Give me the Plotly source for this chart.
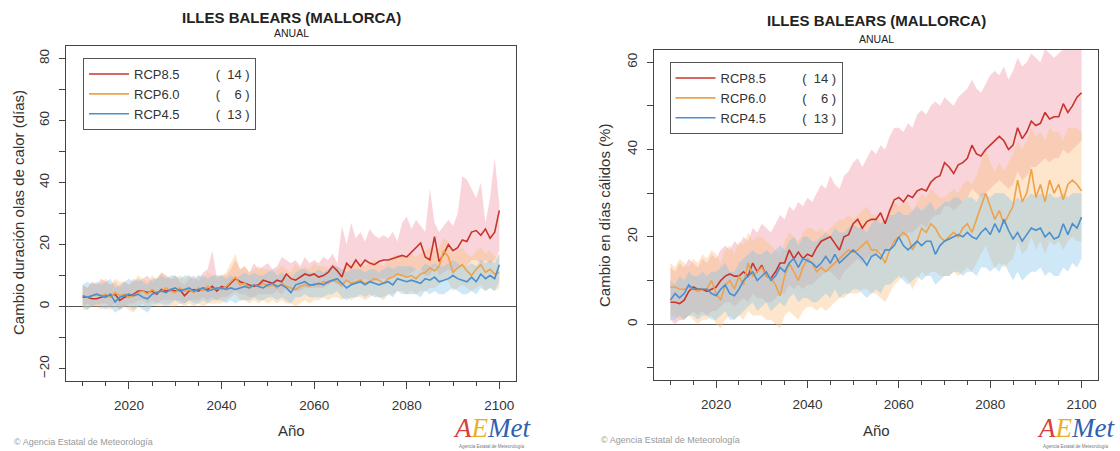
import plotly.graph_objects as go

# ---------------- DATA ----------------
years = list(range(2010, 2101))

# Left panel: Cambio duración olas de calor (días)
l85 = [3.0,3.0,2.5,2.5,3.0,3.5,3.5,4.0,2.0,3.0,
       3.5,4.0,5.0,5.0,4.5,5.0,4.0,5.5,5.0,5.5,
       5.0,5.5,3.5,5.0,5.5,5.0,6.0,5.5,6.5,5.0,
       6.5,6.0,7.5,9.0,8.0,7.5,7.0,6.5,7.0,8.5,
       8.0,7.5,8.5,8.0,10.5,9.0,8.5,9.5,10.5,10.0,
       10.5,9.5,10.0,11.0,13.0,11.5,9.5,14.0,12.5,15.0,
       13.0,15.0,14.0,13.5,14.5,15.0,15.0,15.5,16.0,16.5,
       16.0,17.5,19.0,20.5,16.0,15.0,22.5,14.5,17.0,20.0,
       18.0,19.0,21.5,21.0,24.0,24.5,23.0,25.0,22.0,24.0,
       31.0]
l85_hi = [7,6,8,7,9,8,7,8,6,8,
          7,9,8,9,10,8,9,11,10,9,
          10,8,7,9,10,8,11,12,18,9,
          10,10,12,15,12,13,11,14,12,13,
          14,12,13,16,15,14,15,13,16,14,
          15,14,16,15,17,14,26,20,27,22,
          24,21,25,23,22,23,22,24,21,27,
          29,25,28,26,24,38,27,24,26,28,
          26,30,42,41,38,35,40,27,35,48,
          33]
l85_lo = [0,1,0,0,1,1,0,1,-1,0,
          1,1,2,2,1,2,1,2,2,2,
          2,2,1,2,2,2,3,2,3,2,
          3,3,4,5,4,4,3,3,4,4,
          4,4,5,4,6,5,5,5,6,6,
          6,6,6,7,8,7,6,8,7,9,
          8,9,8,8,9,9,9,10,10,10,
          10,11,12,12,10,10,13,10,11,12,
          11,12,13,13,15,15,14,15,14,15,
          18]
l60 = [3.5,3.0,3.5,4.0,3.5,4.0,3.0,4.5,3.5,4.0,
       3.0,3.5,4.5,5.0,4.0,5.5,4.5,5.0,6.0,5.0,
       4.5,6.0,5.0,5.5,4.5,6.0,5.0,6.5,5.5,6.0,
       5.5,6.5,8.0,9.5,7.0,7.5,6.0,7.0,6.5,7.5,
       6.5,7.0,6.0,7.5,6.5,6.0,5.5,6.5,7.0,6.5,
       7.5,7.0,8.0,7.5,8.5,8.0,7.0,8.5,7.5,8.0,
       8.5,7.5,8.0,9.0,8.5,7.5,9.0,9.5,10.5,10.0,
       9.5,10.0,9.0,10.5,11.0,12.5,11.5,13.0,18.0,16.0,
       11.0,12.5,13.5,11.5,10.0,12.0,13.5,11.0,12.0,10.5,
       11.0]
l60_hi = [7,6,8,7,8,9,7,9,8,8,
          7,8,10,9,8,10,9,11,10,9,
          9,10,9,10,8,10,9,11,10,10,
          10,11,14,17,12,13,11,12,13,12,
          12,11,12,13,12,11,14,12,13,12,
          14,13,13,12,14,13,12,14,13,14,
          14,13,14,15,14,13,15,16,17,16,
          16,17,16,17,18,19,18,19,22,21,
          17,18,19,17,16,18,19,17,18,16,
          17]
l60_lo = [-1,-1,0,0,-1,0,-1,0,-1,0,
          -1,-2,0,1,-1,1,0,0,1,0,
          0,1,0,1,0,1,0,1,1,1,
          1,2,3,4,2,2,1,2,1,2,
          1,2,1,2,1,1,0,1,2,1,
          2,2,3,2,3,3,2,3,2,3,
          3,2,3,4,3,2,4,4,5,5,
          4,5,4,5,5,6,6,7,9,8,
          5,6,7,6,5,6,7,5,6,5,
          6]
l45 = [3.5,3.0,3.5,4.0,3.5,3.0,4.0,1.5,3.0,3.5,
       4.0,3.5,4.0,3.0,2.5,4.0,4.5,5.0,4.5,5.5,
       6.0,5.0,5.5,6.0,5.0,5.5,6.0,5.0,5.5,6.0,
       6.0,5.5,6.0,5.5,6.0,6.5,6.0,7.0,6.5,6.0,
       7.0,7.5,6.5,7.0,6.0,4.5,7.0,7.5,8.0,7.0,
       7.0,7.5,7.0,8.0,8.5,9.0,7.5,6.0,7.0,7.5,
       8.0,7.0,8.0,7.5,7.0,7.5,8.0,7.0,9.0,8.5,
       8.0,8.5,8.0,7.5,9.0,8.5,9.5,8.0,8.5,9.0,
       10.0,9.0,8.5,8.0,9.5,8.0,10.5,9.0,10.0,9.0,
       13.5]
l45_hi = [7,8,7,8,7,8,9,6,7,8,
          9,8,9,8,7,9,9,10,9,10,
          10,9,10,10,9,10,10,9,10,10,
          10,9,10,9,10,11,10,11,10,10,
          11,12,10,11,10,9,11,12,12,11,
          11,12,11,12,13,13,12,11,12,12,
          12,11,12,12,11,12,13,12,13,13,
          13,13,12,12,14,13,14,13,13,14,
          15,14,13,13,14,13,15,14,15,14,
          17]
l45_lo = [0,-1,0,1,0,-1,0,-2,-1,0,
          0,-1,0,-1,-2,0,1,1,0,1,
          2,1,1,2,1,1,2,1,2,2,
          2,1,2,1,2,2,2,3,2,2,
          3,3,2,3,2,1,3,3,4,3,
          3,3,3,4,4,5,3,2,3,3,
          4,3,4,3,3,3,4,3,5,4,
          4,4,4,3,5,4,5,4,4,5,
          6,5,4,4,5,4,6,5,6,5,
          8]

# Right panel: Cambio en días cálidos (%)
r85 = [5.0,5.0,4.7,5.5,7.5,8.5,8.0,8.0,7.5,8.0,
       8.5,10.0,11.0,11.5,11.0,11.0,12.0,11.0,14.0,12.0,
       13.5,11.0,10.5,12.0,14.0,14.0,17.0,15.0,16.5,15.0,
       16.0,15.5,17.5,19.0,19.5,20.0,18.5,17.0,20.0,20.5,
       23.0,24.0,22.0,23.5,24.0,24.0,25.5,23.0,26.0,28.5,
       29.0,28.0,29.5,29.0,30.5,31.0,30.5,32.5,33.5,34.0,
       37.0,36.0,34.5,36.5,37.0,38.0,41.0,39.0,38.5,40.0,
       41.0,42.0,43.0,42.0,40.0,41.0,45.0,42.5,44.0,46.5,
       45.5,46.0,48.5,47.0,47.5,47.5,50.5,48.5,50.0,52.0,
       53.0]
r85_hi = [13,12,14,13,15,14,13,15,14,16,
          15,17,18,17,19,18,20,19,22,21,
          23,22,21,23,25,24,27,26,28,27,
          29,28,30,32,31,34,32,31,34,35,
          37,38,36,38,40,39,41,40,43,45,
          45,44,46,45,48,49,48,50,51,50,
          52,51,50,52,53,54,56,54,53,55,
          57,58,57,59,56,58,61,59,60,62,
          61,60,63,62,61,62,63,63,63,63,
          63]
r85_lo = [1,0,1,1,2,3,2,3,2,3,
          3,4,5,5,4,5,6,5,7,6,
          6,5,5,6,7,7,9,8,9,8,
          9,9,10,11,12,12,11,10,12,13,
          14,15,14,15,16,16,17,16,18,19,
          20,20,21,21,22,23,22,24,25,25,
          27,27,26,27,28,29,31,30,29,30,
          31,32,33,32,31,32,35,33,34,36,
          36,37,38,37,38,38,40,39,40,41,
          42]
r60 = [8.5,8.5,8.0,8.0,8.5,8.0,7.5,8.0,8.0,10.0,
       7.0,5.5,9.0,10.0,8.0,11.0,9.0,14.0,11.0,12.0,
       13.0,11.0,10.5,9.0,6.5,11.0,14.0,12.0,10.0,13.0,
       15.0,14.0,12.0,13.0,12.0,13.0,14.0,15.0,16.0,17.0,
       16.5,17.0,18.0,19.0,17.0,17.0,16.0,14.0,17.0,19.0,
       20.0,21.0,20.0,17.0,19.0,22.0,21.0,23.0,22.0,20.0,
       19.0,20.0,21.0,20.0,22.0,23.0,21.0,24.0,27.0,30.0,
       27.0,24.0,26.0,23.0,25.0,27.0,33.0,28.0,30.0,35.5,
       29.0,32.0,28.0,33.0,30.0,32.0,28.5,32.0,33.0,32.0,
       30.5]
r60_hi = [14,13,15,14,13,15,14,16,15,17,
          16,14,17,18,16,19,18,21,19,20,
          20,19,18,17,16,19,21,20,19,21,
          22,22,21,22,21,22,23,24,24,25,
          24,25,26,27,25,25,24,23,26,28,
          27,28,28,26,28,30,29,31,30,29,
          29,30,31,30,32,33,32,34,37,40,
          37,35,37,35,37,39,42,40,42,45,
          43,44,42,45,44,44,42,45,45,45,
          44]
r60_lo = [2,2,1,1,2,1,0,1,1,2,
          0,-1,1,2,1,2,1,3,2,2,
          2,1,1,0,-1,2,3,2,1,3,
          4,4,3,4,3,4,5,6,6,7,
          7,7,8,8,7,7,6,5,7,9,
          10,11,10,8,10,12,11,12,12,11,
          11,11,12,11,12,13,12,14,16,18,
          15,13,14,13,14,15,19,16,17,20,
          17,19,16,19,18,19,17,19,20,19,
          19]
r45 = [5.5,7.0,6.0,7.0,9.0,8.0,8.0,8.0,8.0,7.0,
       6.5,8.0,9.0,7.0,6.5,8.0,10.0,11.0,12.0,10.0,
       11.0,12.0,10.0,11.0,13.0,12.0,14.0,15.0,13.0,15.0,
       14.5,14.0,13.0,14.0,15.5,14.0,16.0,14.0,15.0,16.0,
       17.0,16.0,15.0,13.5,15.5,16.0,15.0,17.0,17.0,18.0,
       20.0,18.0,17.0,18.0,19.0,18.0,19.0,19.0,16.0,18.0,
       19.0,19.5,20.0,20.5,20.0,21.0,20.0,19.5,21.0,22.0,
       20.5,23.0,21.0,24.0,21.5,19.5,21.0,19.0,20.5,22.0,
       21.5,22.0,20.0,21.0,19.5,20.0,23.0,20.5,23.0,22.0,
       24.5]
r45_hi = [10,9,11,10,12,11,11,12,11,12,
          12,13,14,12,12,14,15,16,17,16,
          16,17,16,17,18,17,19,20,18,20,
          20,19,19,20,21,20,22,21,21,22,
          23,22,22,21,23,24,23,24,25,25,
          26,25,25,26,27,26,27,28,26,27,
          28,28,29,29,28,29,29,28,30,30,
          29,30,30,30,29,28,29,28,29,30,
          29,30,29,30,29,29,30,29,30,30,
          30]
r45_lo = [1,1,2,1,2,2,1,2,2,1,
          1,2,3,1,1,2,3,4,5,3,
          4,5,3,4,5,4,6,7,5,6,
          6,5,5,6,7,6,8,6,7,7,
          8,8,7,6,7,8,7,9,9,10,
          11,10,9,10,11,10,11,11,9,10,
          11,11,12,12,11,12,12,11,13,13,
          12,13,12,14,12,10,12,10,11,12,
          12,13,11,12,11,11,13,12,14,13,
          15]

scenarios = ["RCP8.5", "RCP6.0", "RCP4.5"]
model_counts = [14, 6, 13]
title_text = "ILLES BALEARS (MALLORCA)"
subtitle_text = "ANUAL"
ytitle_left = "Cambio duración olas de calor (días)"
ytitle_right = "Cambio en días cálidos (%)"
xtitle = "Año"

# ---------------- STYLE ----------------
W, H = 1120, 451
FONT = "Liberation Sans, Arial, sans-serif"
line_colors = ["#c9342d", "#eea24a", "#4a90d0"]
band_colors = ["rgba(240,150,165,0.40)", "rgba(250,190,120,0.38)", "rgba(130,195,235,0.38)"]
NB = "\u00a0"


def px(x):
    return x / W


def py(y):
    return 1 - y / H


def legend_name(name, n):
    num = str(n)
    pad = NB * 2 if len(num) == 2 else NB * 4
    return name + NB * 10 + "(" + pad + num + NB + ")"


fig = go.Figure()


def add_panel(xa, ya, leg, series):
    for (mean, lo, hi), bc in zip(series, band_colors):
        fig.add_trace(go.Scatter(x=years, y=hi, xaxis=xa, yaxis=ya, mode="lines",
                                 line=dict(width=0, color=bc), showlegend=False, hoverinfo="skip"))
        fig.add_trace(go.Scatter(x=years, y=lo, xaxis=xa, yaxis=ya, mode="lines",
                                 line=dict(width=0, color=bc), fill="tonexty", fillcolor=bc,
                                 showlegend=False, hoverinfo="skip"))
    for (mean, lo, hi), lc, name, n in zip(series, line_colors, scenarios, model_counts):
        fig.add_trace(go.Scatter(x=years, y=mean, xaxis=xa, yaxis=ya, mode="lines",
                                 line=dict(color=lc, width=1.6), name=legend_name(name, n),
                                 legend=leg))


add_panel("x", "y", "legend", [(l85, l85_lo, l85_hi), (l60, l60_lo, l60_hi), (l45, l45_lo, l45_hi)])
add_panel("x2", "y2", "legend2", [(r85, r85_lo, r85_hi), (r60, r60_lo, r60_hi), (r45, r45_lo, r45_hi)])

tickfont = dict(family=FONT, size=13.5, color="#333")


def xaxis_cfg(domain, anchor):
    return dict(domain=domain, anchor=anchor, range=[2006.4, 2103.6], tick0=2000, dtick=20,
                ticks="outside", ticklen=7, tickwidth=1, tickcolor="#444",
                minor=dict(tick0=2010, dtick=5, ticks="outside", ticklen=4, tickwidth=1, tickcolor="#444"),
                showline=True, mirror=True, linecolor="#444", linewidth=1,
                showgrid=False, zeroline=False, tickfont=tickfont, ticklabelstandoff=5)


def yaxis_cfg(domain, anchor, rng):
    return dict(domain=domain, anchor=anchor, range=rng, tick0=0, dtick=20, tickangle=-90,
                ticks="outside", ticklen=6, tickwidth=1, tickcolor="#444",
                minor=dict(tick0=0, dtick=10, ticks="outside", ticklen=6, tickwidth=1, tickcolor="#444"),
                showline=True, mirror=True, linecolor="#444", linewidth=1,
                showgrid=False, zeroline=True, zerolinecolor="#555", zerolinewidth=1,
                tickfont=tickfont, ticklabelstandoff=5)


def legend_cfg(x, y):
    return dict(x=px(x), y=py(y), xanchor="left", yanchor="top", bgcolor="white",
                bordercolor="#555", borderwidth=1, font=dict(family=FONT, size=13, color="#333"),
                itemwidth=40, tracegroupgap=0, traceorder="normal")


annotations = []


def ann(text, x, y, size, color="#222", angle=0, xanchor="center", family=FONT):
    annotations.append(dict(text=text, x=px(x), y=py(y), xref="paper", yref="paper",
                            showarrow=False, xanchor=xanchor, yanchor="middle", textangle=angle,
                            font=dict(family=family, size=size, color=color)))


for cx, ty, sy, ytx, ytitle, yty, fx, fy, lx in [
        (291, 17, 33, 18, ytitle_left, 213, 12, 442, 492),
        (876, 21, 39, 604, ytitle_right, 216, 599, 440, 1076)]:
    ann("<b>" + title_text + "</b>", cx, ty, 15)
    ann(subtitle_text, cx, sy, 10.5)
    ann(ytitle, ytx, yty, 15, color="#333", angle=-90)
    ann(xtitle, cx, 430, 15, color="#333")
    ann("© Agencia Estatal de Meteorología", fx, fy, 9, color="#999", xanchor="left")
    ann("<i><span style='color:#d8403a'>A</span><span style='color:#e6b22a'>E</span>"
        "<span style='color:#2f5fb0'>Met</span></i>", lx, 428, 27, family="Liberation Serif, serif")
    ann("Agencia Estatal de Meteorología", lx, 446, 4.5, color="#777")

fig.update_layout(
    width=W, height=H, margin=dict(l=0, r=0, t=0, b=0),
    paper_bgcolor="white", plot_bgcolor="white",
    xaxis=xaxis_cfg([px(66), px(516)], "y"),
    yaxis=yaxis_cfg([1 - 381 / H, 1 - 46 / H], "x", [-24, 84]),
    xaxis2=xaxis_cfg([px(654), px(1098)], "y2"),
    yaxis2=yaxis_cfg([1 - 380 / H, 1 - 50 / H], "x2", [-12.8, 62.8]),
    legend=legend_cfg(83, 58),
    legend2=legend_cfg(669.5, 62),
    annotations=annotations,
    showlegend=True,
)

fig.write_html("out.html", config={"displayModeBar": False},
               post_script="document.body.style.margin='0';document.body.style.padding='0';")
